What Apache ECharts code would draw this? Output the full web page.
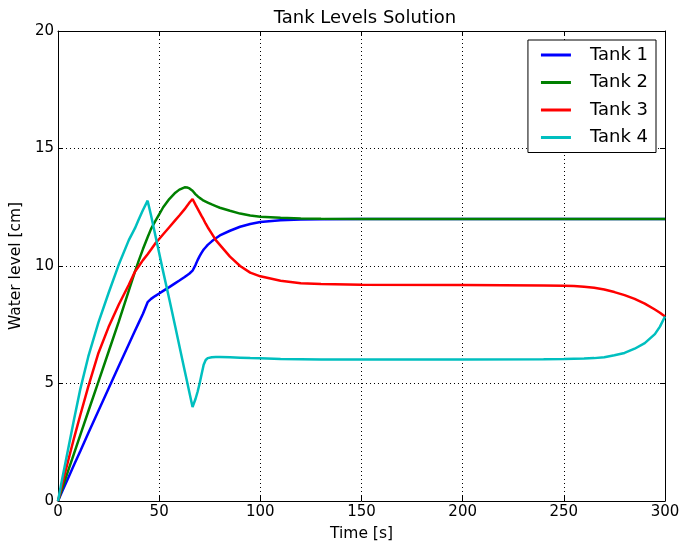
<!DOCTYPE html>
<html>
<head>
<meta charset="utf-8">
<title>Tank Levels Solution</title>
<script src="https://cdn.jsdelivr.net/npm/echarts@6/dist/echarts.min.js"></script>
<style>
  html, body { margin: 0; padding: 0; background: #fff; }
  #chart { width: 684px; height: 547px; }
</style>
</head>
<body>
<div id="chart"></div>
<script>
// Simulation time samples [s]
var timeS = [0, 2, 5, 8, 11, 15, 20, 25, 30, 35, 38, 40, 42, 44.3, 46, 48, 50, 52, 55, 58, 60, 62.6, 64, 65, 66.5,
  68, 69, 70, 71, 72, 73, 74, 76, 78, 80, 85, 90, 95, 100, 110, 120, 130, 150, 200, 240, 250, 255, 260, 265, 270, 275, 280,
  285, 290, 295, 297.5, 300];

// Water level of each tank [cm]
var tank1 = [0, 0.39, 0.97, 1.55, 2.12, 2.89, 3.84, 4.79, 5.73, 6.67, 7.23, 7.6, 7.97, 8.46, 8.6, 8.72, 8.83, 8.94, 9.1, 9.27, 9.38, 9.53, 9.62, 9.68, 9.8,
  10.05, 10.25, 10.42, 10.57, 10.7, 10.8, 10.9, 11.05, 11.18, 11.3, 11.5, 11.67, 11.79, 11.87, 11.95, 11.98, 11.99, 12, 12, 12, 12, 12, 12, 12, 12, 12, 12,
  12, 12, 12, 12, 12];
var tank2 = [0, 0.51, 1.28, 2.04, 2.8, 3.82, 5.08, 6.35, 7.62, 8.95, 9.75, 10.25, 10.72, 11.22, 11.58, 11.9, 12.2, 12.5, 12.85, 13.12, 13.25, 13.35, 13.34, 13.3, 13.2,
  13.05, 12.97, 12.9, 12.84, 12.78, 12.74, 12.7, 12.62, 12.55, 12.48, 12.35, 12.23, 12.15, 12.1, 12.05, 12.02, 12.01, 12, 12, 12, 12, 12, 12, 12, 12, 12, 12,
  12, 12, 12, 12, 12];
var tank3 = [0, 0.68, 1.7, 2.7, 3.65, 4.88, 6.3, 7.4, 8.35, 9.2, 9.75, 10.0, 10.25, 10.5, 10.7, 10.95, 11.15, 11.35, 11.65, 11.95, 12.15, 12.42, 12.58, 12.7, 12.85,
  12.6, 12.44, 12.28, 12.12, 11.97, 11.8, 11.65, 11.38, 11.1, 10.9, 10.4, 10.0, 9.72, 9.56, 9.37, 9.27, 9.23, 9.2, 9.19, 9.17, 9.16, 9.15, 9.12, 9.07, 9.0, 8.89, 8.76,
  8.6, 8.4, 8.15, 8.01, 7.85];
var tank4 = [0, 0.9, 2.2, 3.5, 4.75, 6.15, 7.6, 8.85, 10.05, 11.1, 11.6, 12.0, 12.38, 12.78, 12.15, 11.35, 10.55, 9.75, 8.6, 7.4, 6.6, 5.55, 5.0, 4.6, 4.0,
  4.35, 4.65, 5.0, 5.4, 5.8, 6.0, 6.08, 6.12, 6.13, 6.13, 6.12, 6.1, 6.08, 6.07, 6.04, 6.03, 6.02, 6.02, 6.02, 6.03, 6.04, 6.05, 6.06, 6.08, 6.12, 6.2, 6.3,
  6.48, 6.72, 7.1, 7.42, 7.85];

var seriesNames = ['Tank 1', 'Tank 2', 'Tank 3', 'Tank 4'];
var seriesColors = ['#0000ff', '#008000', '#ff0000', '#00bfbf'];

// Axis tick values
var xTicks = [0, 50, 100, 150, 200, 250, 300];
var yTicks = [0, 5, 10, 15, 20];

var FONT = 'DejaVu Sans';

function pairs(levels) {
  return timeS.map(function (t, i) { return [t, levels[i]]; });
}

var levelSets = [tank1, tank2, tank3, tank4];

var tickInside = { show: true, inside: true, length: 5, lineStyle: { color: '#000', width: 1 } };
var frameLine = { show: true, onZero: false, lineStyle: { color: '#000', width: 1 } };
var gridDots = { show: true, lineStyle: { color: '#000', width: 1, type: [1, 3] } };

var xRange = { min: xTicks[0], max: xTicks[xTicks.length - 1], interval: xTicks[1] - xTicks[0] };
var yRange = { min: yTicks[0], max: yTicks[yTicks.length - 1], interval: yTicks[1] - yTicks[0] };

var option = {
  backgroundColor: '#fff',
  animation: false,
  textStyle: { fontFamily: FONT, color: '#000' },
  title: {
    text: 'Tank Levels Solution',
    left: 360, textAlign: 'center', top: 4,
    textStyle: { fontFamily: FONT, fontSize: 18, fontWeight: 'normal', color: '#000' }
  },
  grid: { left: 56, right: 19, top: 31, bottom: 43, containLabel: false },
  legend: {
    orient: 'vertical',
    right: 28, top: 40,
    padding: [5, 8, 5, 13],
    itemWidth: 30, itemHeight: 3, itemGap: 7.5,
    icon: 'rect',
    backgroundColor: '#fff',
    borderColor: '#000', borderWidth: 1, borderRadius: 0,
    textStyle: { fontFamily: FONT, fontSize: 18, color: '#000', lineHeight: 20, padding: [0, 0, 0, 14] },
    data: seriesNames
  },
  xAxis: [
    Object.assign({
      type: 'value', position: 'bottom',
      name: 'Time [s]', nameLocation: 'middle', nameGap: 25,
      nameTextStyle: { fontFamily: FONT, fontSize: 15.5, color: '#000' },
      axisLine: frameLine, axisTick: tickInside,
      axisLabel: { fontFamily: FONT, fontSize: 15, color: '#000', margin: 4 },
      splitLine: gridDots
    }, xRange),
    Object.assign({
      type: 'value', position: 'top',
      axisLine: frameLine, axisTick: tickInside,
      axisLabel: { show: false }, splitLine: { show: false }
    }, xRange)
  ],
  yAxis: [
    Object.assign({
      type: 'value', position: 'left',
      name: 'Water level [cm]', nameLocation: 'middle', nameGap: 27, nameRotate: 90,
      nameTextStyle: { fontFamily: FONT, fontSize: 15.5, color: '#000' },
      axisLine: frameLine, axisTick: tickInside,
      axisLabel: { fontFamily: FONT, fontSize: 15, color: '#000', margin: 4 },
      splitLine: gridDots
    }, yRange),
    Object.assign({
      type: 'value', position: 'right',
      axisLine: frameLine, axisTick: tickInside,
      axisLabel: { show: false }, splitLine: { show: false }
    }, yRange)
  ],
  series: levelSets.map(function (levels, i) {
    return {
      name: seriesNames[i],
      type: 'line',
      xAxisIndex: 0, yAxisIndex: 0,
      data: pairs(levels),
      showSymbol: false, symbol: 'none',
      color: seriesColors[i],
      lineStyle: { color: seriesColors[i], width: 2.5 },
      clip: true
    };
  })
};

var chart = echarts.init(document.getElementById('chart'), null, { renderer: 'canvas' });
chart.setOption(option);
</script>
</body>
</html>
